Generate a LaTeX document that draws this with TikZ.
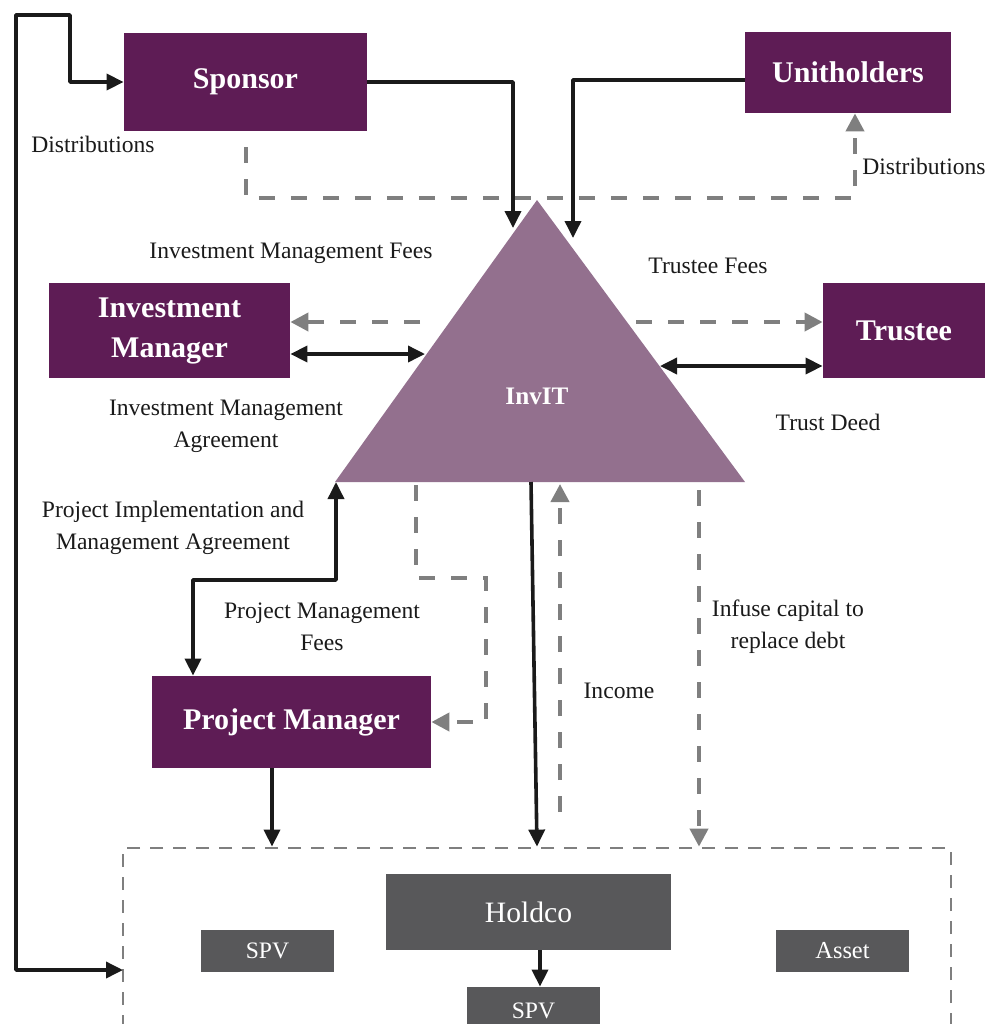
\documentclass[tikz,border=0pt]{standalone}
\usepackage{fontspec}
\setmainfont{Liberation Serif}
\usetikzlibrary{arrows.meta}
\definecolor{purp}{HTML}{5E1C55}
\definecolor{trifill}{HTML}{93708E}
\definecolor{dgray}{HTML}{58585A}
\definecolor{lgray}{HTML}{7F7F7F}
\definecolor{ink}{HTML}{1A1A1A}
\begin{document}
\begin{tikzpicture}[x=0.5pt,y=-0.5pt,
  pbox/.style={fill=purp, text=white, font=\fontsize{15}{20}\selectfont\bfseries, align=center, inner sep=0pt},
  gbox/.style={fill=dgray, text=white, inner sep=0pt},
  lab/.style={text=ink, font=\fontsize{11.8}{16}\selectfont, align=center, inner sep=0pt},
  blk/.style={draw=ink, line width=1.8pt, line join=round},
  blktip/.tip={Triangle[length=8.5pt,width=8pt]},
  gdash/.style={draw=lgray, line width=2pt, dash pattern=on 8pt off 8pt},
  grptip/.tip={Triangle[length=9pt,width=9pt,color=lgray]},
]
\useasboundingbox (0,0) rectangle (987,1024);
\clip (0,0) rectangle (987,1024);

% triangle
\fill[trifill] (537,200) -- (745,482) -- (335,482) -- cycle;
\node[text=white, font=\fontsize{12.6}{15}\selectfont\bfseries, inner sep=0pt] (invit) at (537,396) {InvIT};

% boxes
\node[pbox, minimum width=121.5pt, minimum height=49pt] (sponsor) at (245.5,82) {Sponsor};
\node[pbox, minimum width=103pt, minimum height=40.5pt] (unit) at (848,72.5) {Unitholders};
\node[pbox, minimum width=120.5pt, minimum height=47.5pt] (im) at (169.5,330.5) {Investment\\Manager};
\node[pbox, minimum width=81pt, minimum height=47.5pt] (trustee) at (904,330.5) {Trustee};
\node[pbox, minimum width=139.5pt, minimum height=46pt] (pm) at (291.5,722) {Project Manager};

% group
\node[draw=lgray, line width=1.4pt, dash pattern=on 6.5pt off 5pt, minimum width=414pt, minimum height=112pt, inner sep=0pt] (grp) at (537,960) {};
\node[gbox, font=\fontsize{14.8}{17}\selectfont, minimum width=142.5pt, minimum height=38pt] (holdco) at (528.5,912) {Holdco};
\node[gbox, font=\fontsize{11.8}{14}\selectfont, minimum width=66.5pt, minimum height=21pt] (spva) at (267.5,951) {SPV};
\node[gbox, font=\fontsize{12.2}{14}\selectfont, minimum width=66.5pt, minimum height=21pt] (asset) at (842.5,951) {Asset};
\node[gbox, font=\fontsize{11.8}{14}\selectfont, minimum width=66.5pt, minimum height=24pt] (spvb) at (533.5,1011) {SPV};

% named free ends
\coordinate (gl) at (123,970);
\coordinate (tsp) at (513,228);
\coordinate (tun) at (573,238);
\coordinate (ud) at ([xshift=3.5pt]unit.south);
\coordinate (imd) at (420,322);
\coordinate (ims) at (425,354);
\coordinate (trd) at (636,322);
\coordinate (trs) at (660,366);
\coordinate (tbl) at (336,482);
\coordinate (pmd) at (416,485);
\coordinate (tbot) at (531,482);
\coordinate (incs) at (560,812);
\coordinate (ince) at (560,484);
\coordinate (infs) at (699,490);
\coordinate (pmb) at ([xshift=-9.75pt]pm.south);

% solid connectors
\draw[blk, {blktip}-{blktip}] (gl) -- (16,970) -- (16,15) -- (70,15) |- (sponsor.west);
\draw[blk, -{blktip}] (sponsor.east) -| (tsp);
\draw[blk, -{blktip}] ([yshift=-3.75pt]unit.west) -| (tun);
\draw[blk, {blktip}-{blktip}] (im.east |- ims) -- (ims);
\draw[blk, {blktip}-{blktip}] (trs) -- (trustee.west |- trs);
\draw[blk, {blktip}-{blktip}] (tbl) -- (336,580) -| ([xshift=-49.25pt]pm.north);
\draw[blk, -{blktip}] (pmb) -- (pmb |- grp.north);
\draw[blk, -{blktip}] (tbot) -- (537,0 |- grp.north);
\draw[blk, -{blktip}] (holdco.south -| 540,0) -- (spvb.north -| 540,0);

% dashed connectors
\draw[gdash, -{grptip}] ([yshift=-8pt]sponsor.south) |- (ud |- 0,198) -- (ud);
\draw[gdash, -{grptip}] (imd) -- (im.east |- imd);
\draw[gdash, -{grptip}] (trd) -- (trustee.west |- trd);
\draw[gdash, -{grptip}] (pmd) -- (416,578) -- (486,578) |- (pm.east);
\draw[gdash, -{grptip}] (incs) -- (ince);
\draw[gdash, -{grptip}] (infs) -- (infs |- grp.north);

% labels
\node[lab] (l1) at (93,144) {Distributions};
\node[lab] (l2) at (924,166) {Distributions};
\node[lab] (l3) at (291,253) {Investment Management Fees};
\node[lab] (l4) at (708,266) {Trustee Fees};
\node[lab] (l5) at (226,426) {Investment Management\\Agreement};
\node[lab] (l6) at (828,422) {Trust Deed};
\node[lab] (l7) at (173,528) {Project Implementation and\\Management Agreement};
\node[lab] (l8) at (322,627) {Project Management\\Fees};
\node[lab] (l9) at (619,691) {Income};
\node[lab] (l10) at (788,627) {Infuse capital to\\replace debt};
\end{tikzpicture}
\end{document}
